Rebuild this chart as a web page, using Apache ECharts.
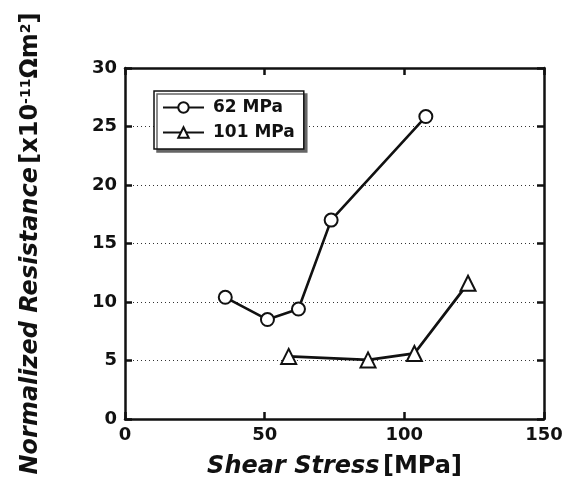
<!DOCTYPE html>
<html>
<head>
<meta charset="utf-8">
<script src="https://cdn.jsdelivr.net/npm/echarts@6/dist/echarts.min.js"></script>
<style>
  html, body { margin: 0; padding: 0; background: #fff; }
  #chart { width: 570px; height: 484px; }
</style>
</head>
<body>
<div id="chart"></div>
<script>
// values
const seriesNames = ['62 MPa', '101 MPa'];
const stress62 = [35.9, 51.0, 62.1, 73.8, 107.7];
const resist62 = [10.4, 8.5, 9.4, 17.0, 25.85];
const stress101 = [58.6, 87.0, 103.6, 122.8];
const resist101 = [5.35, 5.05, 5.6, 11.6];
const xTicks = [0, 50, 100, 150];
const yTicks = [0, 5, 10, 15, 20, 25, 30];

const font = 'DejaVu Sans';
const pairs = (xs, ys) => xs.map((x, i) => [x, ys[i]]);

const chart = echarts.init(document.getElementById('chart'));

const baseX = {
    type: 'value',
    min: xTicks[0],
    max: xTicks[xTicks.length - 1],
    interval: 50,
    axisLine: { show: true, onZero: false, lineStyle: { color: '#111', width: 2.5 } },
    axisTick: { show: true, inside: true, length: 7, lineStyle: { color: '#111', width: 2.5 } },
    splitLine: { show: false }
};
const baseY = {
    type: 'value',
    min: yTicks[0],
    max: yTicks[yTicks.length - 1],
    interval: 5,
    axisLine: { show: true, onZero: false, lineStyle: { color: '#111', width: 2.5 } },
    axisTick: { show: true, inside: true, length: 7, lineStyle: { color: '#111', width: 2.5 } },
    splitLine: { show: false }
};

chart.setOption({
    animation: false,
    backgroundColor: '#fff',
    grid: { left: 125, right: 26, top: 68, bottom: 64 },
    legend: {
        orient: 'vertical',
        left: 154,
        top: 91,
        data: seriesNames,
        itemWidth: 41,
        itemHeight: 13,
        itemGap: 8,
        padding: [8, 9, 8, 8],
        backgroundColor: '#fff',
        borderColor: '#111',
        borderWidth: 1.5,
        shadowColor: '#666',
        shadowOffsetX: 3,
        shadowOffsetY: 3,
        textStyle: { fontFamily: font, fontWeight: 'bold', fontSize: 17, color: '#111', padding: [0, 0, 0, 4] }
    },
    xAxis: [
        Object.assign({}, baseX, {
            position: 'bottom',
            name: '{i|Shear Stress} {n|[MPa]}',
            nameLocation: 'middle',
            nameGap: 36,
            nameTextStyle: {
                rich: {
                    i: { fontFamily: font, fontWeight: 'bold', fontStyle: 'italic', fontSize: 24, color: '#111' },
                    n: { fontFamily: font, fontWeight: 'bold', fontSize: 24, color: '#111' }
                }
            },
            axisLabel: { fontFamily: font, fontWeight: 'bold', fontSize: 18, color: '#111', margin: 7 }
        }),
        Object.assign({}, baseX, { position: 'top', axisLabel: { show: false } })
    ],
    yAxis: [
        Object.assign({}, baseY, {
            position: 'left',
            name: '{i|Normalized Resistance} {n|[x10}{s|-11}{n|Ωm}{s|2}{n|]}',
            nameLocation: 'middle',
            nameGap: 82,
            nameTextStyle: {
                rich: {
                    i: { fontFamily: font, fontWeight: 'bold', fontStyle: 'italic', fontSize: 24, color: '#111' },
                    n: { fontFamily: font, fontWeight: 'bold', fontSize: 24, color: '#111' },
                    s: { fontFamily: font, fontWeight: 'bold', fontSize: 14, color: '#111', verticalAlign: 'top', lineHeight: 24 }
                }
            },
            axisLabel: { fontFamily: font, fontWeight: 'bold', fontSize: 18, color: '#111', margin: 8 },
            splitLine: { show: true, lineStyle: { color: '#333', type: [1, 3], width: 1 } }
        }),
        Object.assign({}, baseY, { position: 'right', axisLabel: { show: false } })
    ],
    series: [
        {
            name: seriesNames[0],
            type: 'line',
            data: pairs(stress62, resist62),
            symbol: 'circle',
            symbolSize: 13,
            itemStyle: { color: '#fff', borderColor: '#111', borderWidth: 2 },
            lineStyle: { color: '#111', width: 2.6 },
            z: 3
        },
        {
            name: seriesNames[1],
            type: 'line',
            data: pairs(stress101, resist101),
            symbol: 'triangle',
            symbolSize: 15,
            itemStyle: { color: '#fff', borderColor: '#111', borderWidth: 2 },
            lineStyle: { color: '#111', width: 2.8 },
            z: 3
        }
    ]
});
</script>
</body>
</html>
